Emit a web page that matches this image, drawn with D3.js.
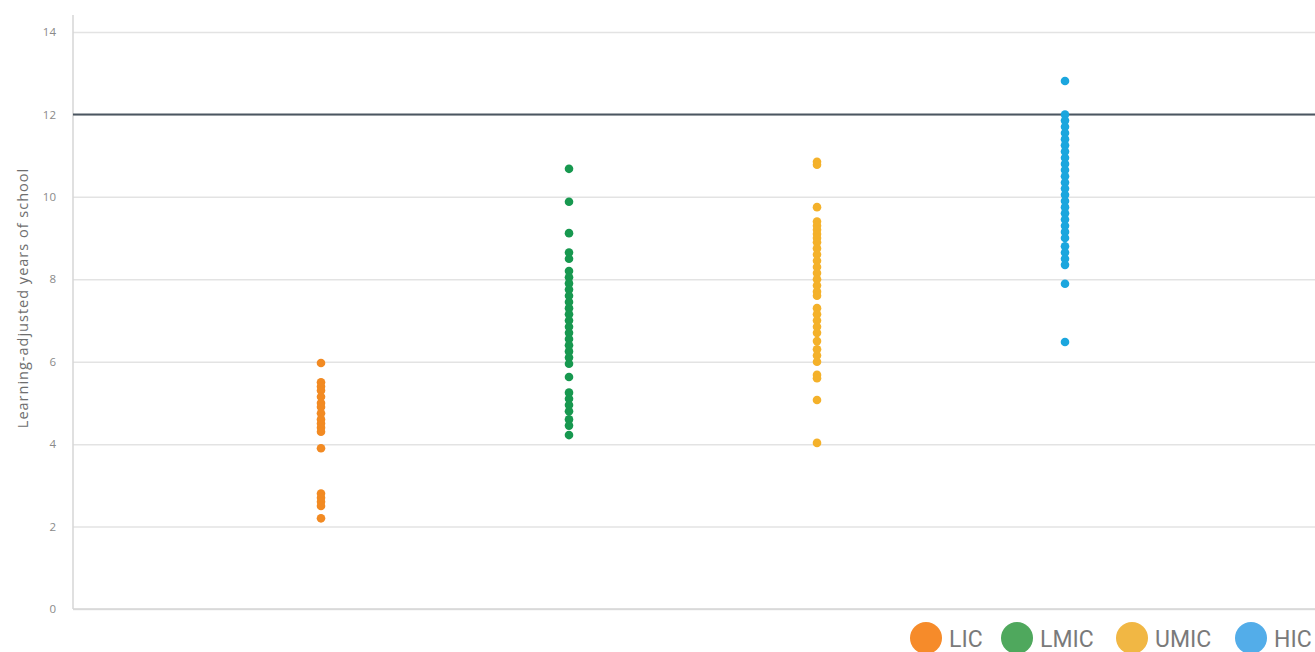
<!DOCTYPE html>
<html>
<head>
<meta charset="utf-8">
<script src="https://cdn.jsdelivr.net/npm/d3@7"></script>
<style>
  html, body { margin: 0; padding: 0; background: #fff; }
  svg { display: block; }
</style>
</head>
<body>
<svg id="chart" width="1315" height="652"></svg>
<script>
const categories = ["LIC", "LMIC", "UMIC", "HIC"];
const licValues = [5.97, 5.5, 5.4, 5.3, 5.15, 5.0, 4.9, 4.75, 4.6, 4.5, 4.4, 4.3, 3.9, 2.8, 2.7, 2.6, 2.5, 2.2];
const lmicValues = [10.68, 9.88, 9.12, 8.65, 8.5, 8.2, 8.05, 7.9, 7.75, 7.6, 7.45, 7.3, 7.15, 7.0, 6.85, 6.7, 6.55, 6.4, 6.25, 6.1, 5.95, 5.63, 5.25, 5.1, 4.95, 4.8, 4.6, 4.45, 4.22];
const umicValues = [10.85, 10.78, 9.75, 9.4, 9.3, 9.2, 9.1, 9.0, 8.9, 8.75, 8.6, 8.45, 8.3, 8.15, 8.0, 7.85, 7.7, 7.6, 7.3, 7.15, 7.0, 6.85, 6.7, 6.5, 6.3, 6.15, 6.0, 5.68, 5.6, 5.07, 4.03];
const hicValues = [12.81, 12.0, 11.85, 11.7, 11.55, 11.4, 11.25, 11.1, 10.95, 10.8, 10.65, 10.5, 10.35, 10.2, 10.05, 9.9, 9.75, 9.6, 9.45, 9.3, 9.15, 9.0, 8.8, 8.65, 8.5, 8.35, 7.89, 6.48];
const yTicks = [0, 2, 4, 6, 8, 10, 12, 14];
const thresholdValue = 12;
const yLabel = "Learning-adjusted years of school";
const dotColors = ["#f28a22", "#17984f", "#f4b12a", "#1ba6de"];
const legendColors = ["#f68b2a", "#4fa85d", "#f1b744", "#53ade9"];

const seriesValues = [licValues, lmicValues, umicValues, hicValues];

const svg = d3.select("#chart");
const plotLeft = 73, plotRight = 1315, plotTop = 32, plotBottom = 609;

const x = d3.scaleLinear().domain([0, 5]).range([73, 1313]);
const y = d3.scaleLinear().domain([0, 14]).range([plotBottom, plotTop]);

// gridlines
const yAxis = d3.axisLeft(y).tickValues(yTicks).tickSize(-(plotRight - plotLeft)).tickFormat(d3.format("d"));
const gAxis = svg.append("g").attr("transform", `translate(${plotLeft},0)`).call(yAxis);
gAxis.select(".domain").remove();
gAxis.selectAll(".tick line").attr("stroke", "#e3e3e3").attr("stroke-width", 1.5);
gAxis.selectAll(".tick text")
  .attr("x", -17)
  .attr("fill", "#8a8a8a")
  .style("font-family", "'Open Sans', sans-serif")
  .style("font-size", "11.5px");

// axis lines
svg.append("line").attr("x1", plotLeft).attr("x2", plotLeft).attr("y1", 15).attr("y2", plotBottom)
  .attr("stroke", "#d6d6d6").attr("stroke-width", 1.5);
svg.append("line").attr("x1", plotLeft).attr("x2", plotRight).attr("y1", y(0)).attr("y2", y(0))
  .attr("stroke", "#d6d6d6").attr("stroke-width", 1.5);

// threshold line
svg.append("line").attr("x1", plotLeft).attr("x2", plotRight)
  .attr("y1", y(thresholdValue)).attr("y2", y(thresholdValue))
  .attr("stroke", "#4b5661").attr("stroke-width", 2);

// y label
svg.append("text")
  .attr("transform", `translate(28,298) rotate(-90)`)
  .attr("text-anchor", "middle")
  .attr("fill", "#6e6e6e")
  .style("font-family", "'Open Sans', sans-serif")
  .style("font-size", "14.5px")
  .style("letter-spacing", "1px")
  .text(yLabel);

// dots
categories.forEach((cat, i) => {
  svg.append("g").selectAll("circle")
    .data(seriesValues[i])
    .join("circle")
    .attr("cx", x(i + 1))
    .attr("cy", d => y(d))
    .attr("r", 4.3)
    .attr("fill", dotColors[i]);
});

// legend
const legendX = [926, 1017, 1132, 1251];
const leg = svg.append("g");
categories.forEach((cat, i) => {
  leg.append("circle").attr("cx", legendX[i]).attr("cy", 638).attr("r", 16).attr("fill", legendColors[i]);
  leg.append("text").attr("x", legendX[i] + 23).attr("y", 647)
    .attr("fill", "#7a7a7a")
    .style("font-family", "Roboto, 'Open Sans', sans-serif")
    .style("font-size", "23px")
    .text(cat);
});
</script>
</body>
</html>
